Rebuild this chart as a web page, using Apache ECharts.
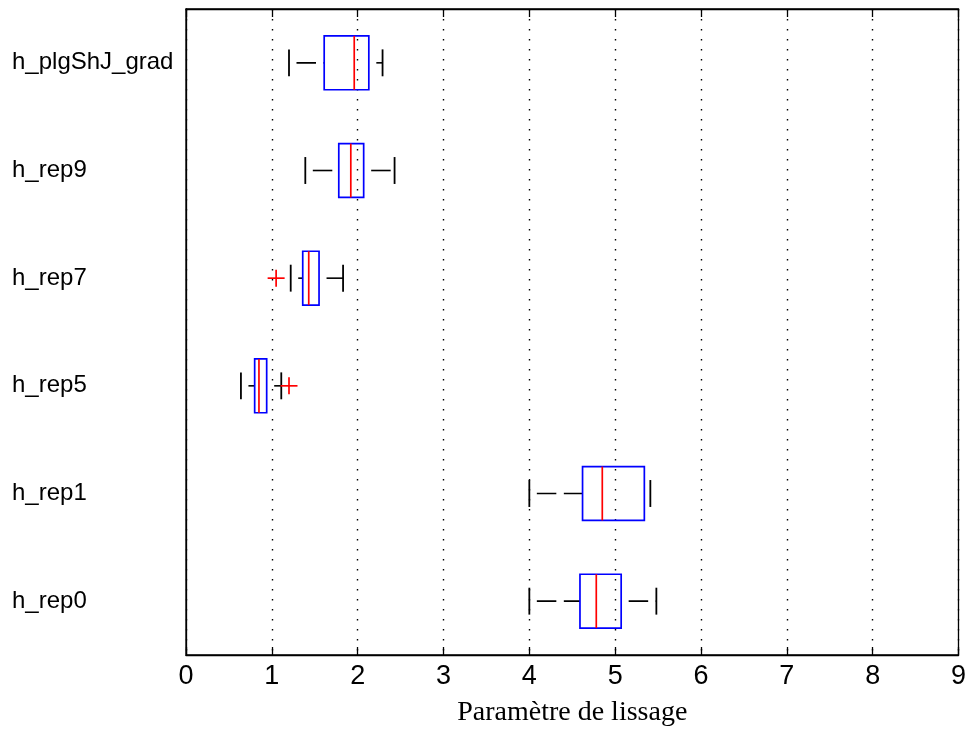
<!DOCTYPE html>
<html>
<head>
<meta charset="utf-8">
<script src="https://cdn.jsdelivr.net/npm/echarts@6/dist/echarts.min.js"></script>
<style>html,body{margin:0;padding:0;background:#fff}#c{width:969px;height:733px}</style>
</head>
<body>
<div id="c"></div>
<script>
// Categories listed bottom to top
var categories = ['h_rep0', 'h_rep1', 'h_rep5', 'h_rep7', 'h_rep9', 'h_plgShJ_grad'];
// [min, Q1, median, Q3, max] per category
var whiskerLow = [4.00, 4.00, 0.64, 1.22, 1.39, 1.20];
var q1Values   = [4.59, 4.62, 0.80, 1.36, 1.78, 1.61];
var medians    = [4.78, 4.85, 0.85, 1.43, 1.92, 1.96];
var q3Values   = [5.07, 5.34, 0.94, 1.55, 2.07, 2.13];
var whiskerHigh= [5.48, 5.41, 1.11, 1.83, 2.43, 2.29];
// outliers: [value, categoryIndex]
var outliers = [[1.20, 2], [1.05, 3]];
var xTicks = [0, 1, 2, 3, 4, 5, 6, 7, 8, 9];

var boxData = categories.map(function (c, i) {
  return [i, whiskerLow[i], q1Values[i], medians[i], q3Values[i], whiskerHigh[i]];
});

var chart = echarts.init(document.getElementById('c'), null, {renderer: 'canvas'});

function renderBox(params, api) {
  var ci = api.value(0);
  var vmin = api.value(1), vq1 = api.value(2), vmed = api.value(3), vq3 = api.value(4), vmax = api.value(5);
  var band = api.size([0, 1])[1];
  var yc = api.coord([0, ci])[1];
  var hb = band * 0.25, hc = band * 0.125;
  var xmin = api.coord([vmin, ci])[0];
  var xq1 = api.coord([vq1, ci])[0];
  var xmed = api.coord([vmed, ci])[0];
  var xq3 = api.coord([vq3, ci])[0];
  var xmax = api.coord([vmax, ci])[0];
  var dash = {stroke: '#000', lineWidth: 1.6, lineDash: [19.5, 7.5], lineDashOffset: 19.5};
  var solidK = {stroke: '#000', lineWidth: 1.8};
  return {
    type: 'group',
    children: [
      {type: 'line', shape: {x1: xmin, y1: yc, x2: xq1, y2: yc}, style: dash},
      {type: 'line', shape: {x1: xq3, y1: yc, x2: xmax, y2: yc}, style: dash},
      {type: 'line', shape: {x1: xmin, y1: yc - hc, x2: xmin, y2: yc + hc}, style: solidK},
      {type: 'line', shape: {x1: xmax, y1: yc - hc, x2: xmax, y2: yc + hc}, style: solidK},
      {type: 'rect', shape: {x: xq1, y: yc - hb, width: xq3 - xq1, height: 2 * hb},
        style: {fill: 'none', stroke: '#0000ff', lineWidth: 1.7}},
      {type: 'line', shape: {x1: xmed, y1: yc - hb, x2: xmed, y2: yc + hb},
        style: {stroke: '#ff0000', lineWidth: 1.7}}
    ]
  };
}

function renderOutlier(params, api) {
  var p = api.coord([api.value(0), api.value(1)]);
  var s = 8.5;
  var st = {stroke: '#ff0000', lineWidth: 1.7};
  return {
    type: 'group',
    children: [
      {type: 'line', shape: {x1: p[0] - s, y1: p[1], x2: p[0] + s, y2: p[1]}, style: st},
      {type: 'line', shape: {x1: p[0], y1: p[1] - s, x2: p[0], y2: p[1] + s}, style: st}
    ]
  };
}

var xAxisCommon = {
  type: 'value', min: xTicks[0], max: xTicks[xTicks.length - 1], interval: 1
};

chart.setOption({
  animation: false,
  backgroundColor: '#fff',
  grid: {left: 186, right: 9, top: 9, bottom: 78, show: true, borderColor: '#000', borderWidth: 1.3, backgroundColor: 'transparent'},
  xAxis: [
    Object.assign({}, xAxisCommon, {
      position: 'bottom',
      name: 'Paramètre de lissage',
      nameLocation: 'middle',
      nameGap: 44,
      nameTextStyle: {fontFamily: 'Liberation Serif, Times New Roman, serif', fontSize: 28, color: '#000'},
      axisLine: {show: true, lineStyle: {color: '#000', width: 1.3}},
      axisTick: {show: true, inside: true, length: 8, lineStyle: {color: '#000', width: 1.3}},
      axisLabel: {show: true, margin: 8, color: '#000', fontSize: 27,
        fontFamily: 'Liberation Sans Narrow, Arial Narrow, Liberation Sans, sans-serif'},
      splitLine: {show: true, lineStyle: {color: '#000', width: 1.4, type: [1.5, 8.5]}}
    }),
    Object.assign({}, xAxisCommon, {
      position: 'top',
      axisLine: {show: true, lineStyle: {color: '#000', width: 1.3}},
      axisTick: {show: true, inside: true, length: 8, lineStyle: {color: '#000', width: 1.3}},
      axisLabel: {show: false},
      splitLine: {show: false}
    })
  ],
  yAxis: {
    type: 'category',
    data: categories,
    boundaryGap: true,
    axisLine: {show: true, lineStyle: {color: '#000', width: 1.3}},
    axisTick: {show: false},
    axisLabel: {show: true, align: 'left', margin: 174, color: '#000', fontSize: 24,
      fontFamily: 'Liberation Sans, Arial, sans-serif'},
    splitLine: {show: false}
  },
  series: [
    {
      type: 'custom',
      xAxisIndex: 0,
      renderItem: renderBox,
      encode: {x: [1, 2, 3, 4, 5], y: 0},
      data: boxData,
      z: 5
    },
    {
      type: 'custom',
      xAxisIndex: 0,
      renderItem: renderOutlier,
      encode: {x: 0, y: 1},
      data: outliers,
      z: 6
    }
  ]
});
</script>
</body>
</html>
